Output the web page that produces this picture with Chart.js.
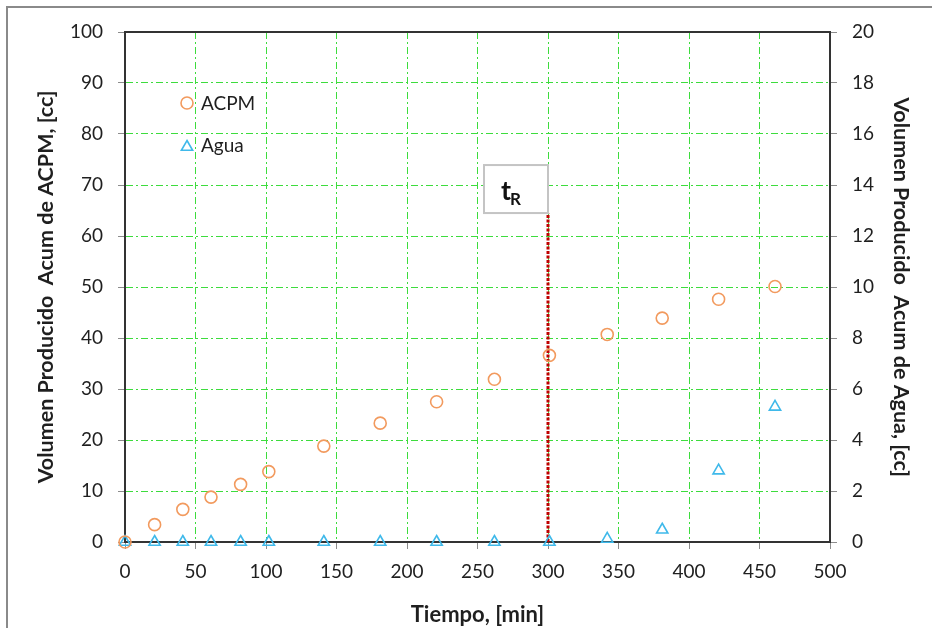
<!DOCTYPE html>
<html>
<head>
<meta charset="utf-8">
<script src="https://cdn.jsdelivr.net/npm/chart.js@4.4.0/dist/chart.umd.min.js"></script>
<style>
  html, body { margin: 0; padding: 0; background: #fff; }
  #wrap { position: relative; width: 932px; height: 628px; }
</style>
</head>
<body>
<div id="wrap"><canvas id="chart" width="932" height="628"></canvas></div>
<script>
// time [min]
const tiempo = [0, 21, 41, 61, 82, 102, 141, 181, 221, 262, 301, 342, 381, 421, 461];
// cumulative volumes [cc]
const acpm = [0, 3.4, 6.4, 8.8, 11.3, 13.8, 18.8, 23.3, 27.5, 31.9, 36.6, 40.7, 43.9, 47.6, 50.1];
const agua = [0, 0, 0, 0, 0, 0, 0, 0, 0, 0, 0, 0.12, 0.48, 2.8, 5.3];
// breakthrough time marker
const tR = 300;
const tRTop = 64.5;

const FONT = "Lato, 'Open Sans', sans-serif";
const gridGreen = '#3ddc3d';
const tickGray = '#8c8c8c';
const axisDark = '#333333';
const textDark = '#1f1f1f';

const pts = (ys) => tiempo.map((t, i) => ({ x: t, y: ys[i] }));

const decor = {
  id: 'decor',
  beforeDraw(chart) {
    const ctx = chart.ctx;
    ctx.save();
    ctx.fillStyle = '#fff';
    ctx.fillRect(0, 0, chart.width, chart.height);
    // outer frame (top / left edges)
    ctx.fillStyle = '#8a8a8a';
    ctx.fillRect(6, 6, 2, chart.height);
    ctx.fillRect(6, 6, chart.width, 2);
    ctx.restore();
  },
  beforeDatasetsDraw(chart) {
    const { ctx, chartArea: a } = chart;
    ctx.save();
    ctx.strokeStyle = axisDark;
    ctx.lineWidth = 2;
    ctx.beginPath();
    ctx.moveTo(a.left - 1, a.top);
    ctx.lineTo(a.right + 1, a.top);
    ctx.stroke();
    ctx.restore();
  },
  afterDatasetsDraw(chart) {
    const { ctx, chartArea: a, scales } = chart;
    ctx.save();
    // tR label box
    const r = scales.x.getPixelForValue(tR);
    const b = scales.y.getPixelForValue(tRTop);
    ctx.fillStyle = '#fff';
    ctx.fillRect(r - 64, b - 48, 64, 48);
    ctx.strokeStyle = '#c4c4c4';
    ctx.lineWidth = 2;
    ctx.strokeRect(r - 64, b - 48, 64, 48);
    ctx.fillStyle = '#111';
    ctx.textBaseline = 'alphabetic';
    ctx.font = 'bold 27px ' + FONT;
    ctx.fillText('t', r - 47, b - 13);
    ctx.font = 'bold 17px ' + FONT;
    ctx.fillText('R', r - 38, b - 8);

    // legend inside the plot
    const items = chart.data.datasets.slice(0, 2);
    items.forEach((ds, i) => {
      const cx = a.left + 62;
      const cy = a.top + 71 + i * 44;
      ctx.strokeStyle = ds.borderColor;
      ctx.lineWidth = ds.borderWidth;
      ctx.beginPath();
      if (ds.pointStyle === 'circle') {
        ctx.arc(cx, cy, ds.pointRadius, 0, Math.PI * 2);
      } else {
        const rr = ds.pointRadius;
        ctx.moveTo(cx, cy - rr);
        ctx.lineTo(cx + rr * Math.sin(Math.PI * 2 / 3), cy + rr * 0.5);
        ctx.lineTo(cx - rr * Math.sin(Math.PI * 2 / 3), cy + rr * 0.5);
        ctx.closePath();
      }
      ctx.stroke();
      ctx.fillStyle = textDark;
      ctx.font = '19px ' + FONT;
      ctx.textBaseline = 'middle';
      ctx.fillText(ds.label, cx + 14, cy + (i === 1 ? -1 : 1));
    });
    ctx.restore();
  }
};

new Chart(document.getElementById('chart').getContext('2d'), {
  type: 'scatter',
  data: {
    datasets: [
      {
        label: 'ACPM',
        data: pts(acpm),
        yAxisID: 'y',
        pointStyle: 'circle',
        pointRadius: 6,
        borderColor: '#f29a5e',
        backgroundColor: 'rgba(0,0,0,0)',
        borderWidth: 1.6,
        clip: false
      },
      {
        label: 'Agua',
        data: pts(agua),
        yAxisID: 'y1',
        pointStyle: 'triangle',
        pointRadius: 6.5,
        borderColor: '#3fb9ea',
        backgroundColor: 'rgba(0,0,0,0)',
        borderWidth: 1.6,
        clip: false
      },
      {
        label: 'tR',
        type: 'line',
        data: [{ x: tR, y: 0 }, { x: tR, y: tRTop }],
        yAxisID: 'y',
        borderColor: '#c00000',
        borderWidth: 3,
        borderDash: [3, 1.5],
        pointRadius: 0,
        fill: false,
        clip: false
      }
    ]
  },
  options: {
    responsive: false,
    animation: false,
    layout: { padding: { top: 32, left: 0, right: 0, bottom: 0 } },
    plugins: {
      legend: { display: false },
      tooltip: { enabled: false }
    },
    scales: {
      x: {
        type: 'linear',
        min: 0,
        max: 500,
        ticks: { stepSize: 50, color: textDark, font: { family: FONT, size: 19 }, padding: 11 },
        grid: { color: gridGreen, lineWidth: 1, tickColor: tickGray, tickLength: 7, tickBorderDash: [] },
        border: { color: axisDark, width: 2, dash: [7, 3, 2, 3] },
        title: { display: true, text: 'Tiempo, [min]', color: textDark, font: { family: FONT, size: 22, weight: 'bold' }, padding: { top: 8, bottom: 0 } },
        afterFit(s) { s.height = 86; }
      },
      y: {
        position: 'left',
        min: 0,
        max: 100,
        ticks: { stepSize: 10, color: textDark, font: { family: FONT, size: 19 }, padding: 15 },
        grid: { color: gridGreen, lineWidth: 1, tickColor: tickGray, tickLength: 7, tickBorderDash: [] },
        border: { color: axisDark, width: 2, dash: [7, 3, 2, 3] },
        title: { display: true, text: 'Volumen Producido  Acum de ACPM, [cc]', color: textDark, font: { family: FONT, size: 21.5, weight: 'bold' }, padding: { top: 33, bottom: 0 } },
        afterFit(s) { s.width = 125; }
      },
      y1: {
        position: 'right',
        min: 0,
        max: 20,
        ticks: { stepSize: 2, color: textDark, font: { family: FONT, size: 19 }, padding: 15 },
        grid: { drawOnChartArea: false, tickColor: tickGray, tickLength: 7, tickBorderDash: [] },
        border: { color: axisDark, width: 2 },
        title: { display: true, text: 'Volumen Producido  Acum de Agua, [cc]', color: textDark, font: { family: FONT, size: 21.5, weight: 'bold' }, padding: { top: 18, bottom: 0 } },
        afterFit(s) { s.width = 102; }
      }
    }
  },
  plugins: [decor]
});
</script>
</body>
</html>
